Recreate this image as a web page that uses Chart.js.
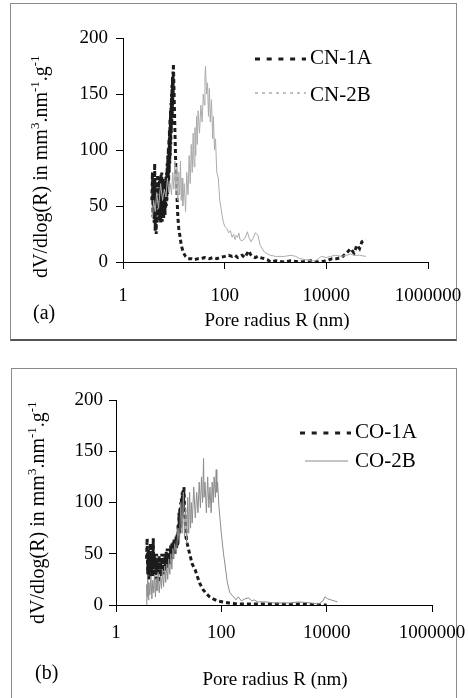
<!DOCTYPE html>
<html>
<head>
<meta charset="utf-8">
<script src="https://cdn.jsdelivr.net/npm/chart.js@4.4.1/dist/chart.umd.min.js"></script>
<style>
  html, body { margin: 0; padding: 0; background: #fff; }
  body { width: 468px; height: 698px; position: relative; overflow: hidden; }
  .box { position: absolute; box-sizing: border-box; }
  canvas { position: absolute; left: 0; }
</style>
</head>
<body>
<div class="box" style="left:10px;top:3px;width:447px;height:338px;border:1px solid #8a8a8a;border-bottom:2px solid #555;"></div>
<div class="box" style="left:11px;top:368px;width:446px;height:340px;border:1px solid #8a8a8a;border-bottom:none;"></div>
<canvas id="c1" width="468" height="340" style="top:0px"></canvas>
<canvas id="c2" width="468" height="358" style="top:340px"></canvas>
<script>
// ---------- tick labels ----------
const xTicks = [1, 100, 10000, 1000000];
const yTicks = [0, 50, 100, 150, 200];

// ---------- panel (a) ----------
const cn1aR = [3.7,3.8,3.9,4.0,
  4.1,4.2,4.3,4.4,4.5,4.6,
  4.7,4.8,4.9,5.0,5.1,5.2,5.3,5.4,5.5,
  5.6,5.7,5.8,5.9,6.0,6.1,6.2,6.3,6.4,6.5,
  6.6,6.7,6.8,6.9,7.0,7.1,7.2,7.3,7.4,7.5,
  7.6,7.7,7.8,7.9,8.0,8.1,8.2,8.3,8.4,8.5,
  8.6,8.7,8.8,8.9,9.0,9.1,9.2,9.3,9.4,9.5,9.6,9.7,9.8,
  10.0,10.3,10.6,11,11.5,12,12.5,13,
  14,15,16,17,18,19,20,
  22,25,30,35,40,
  50,60,70,80,
  100,120,140,160,180,200,220,250,280,300,320,350,
  400,450,500,600,700,800,
  1000,1500,2000,3000,5000,7000,
  10000,13000,16000,20000,25000,30000,35000,40000,45000,50000,60000];
const cn1aV = [55,80,40,72,
  35,88,28,66,25,72,
  34,78,38,70,36,76,40,74,35,
  78,42,80,36,72,40,75,38,70,44,
  68,42,72,48,76,50,80,55,88,60,
  95,66,102,72,110,80,118,88,128,95,
  135,105,142,115,150,122,158,130,165,140,170,150,177,
  160,135,110,80,60,40,30,25,
  15,10,7,5,4,3,3,
  3,2,3,3,4,
  3,4,3,4,
  5,6,5,6,4,5,6,4,8,10,7,5,
  4,5,4,3,2,0,
  1,0,1,0,1,0,
  1,3,3,4,8,12,8,15,12,18,20];

const cn2bR = [3.8,4.0,4.3,4.6,5.0,
  5.5,6.0,6.5,7.0,7.5,8.0,8.5,9.0,9.5,10,
  10.5,11,11.5,12,12.5,13,13.5,14,14.5,15,
  16,17,18,19,20,21,22,23,24,25,26,27,28,29,30,
  32,34,36,38,40,41,42,44,46,48,50,
  52,55,58,60,63,66,70,75,80,85,90,95,100,
  110,120,130,140,150,160,170,180,190,200,
  220,250,280,300,330,370,400,450,500,
  600,700,800,1000,1500,2000,2500,3000,4000,5000,
  6000,7000,8000,10000,12000,15000,20000,25000,30000,35000,45000,60000];
const cn2bV = [40,55,45,62,48,
  70,55,65,58,75,62,70,60,80,65,
  90,60,85,55,80,60,90,55,75,50,
  70,45,80,60,95,70,105,80,115,85,120,95,130,105,135,
  115,140,125,150,140,165,175,150,160,130,155,
  125,145,110,130,100,110,80,75,55,48,40,35,32,
  30,26,28,22,25,20,24,22,26,20,
  19,21,27,22,18,22,26,24,15,
  9,7,6,5,5,6,5,3,2,1,
  1,3,5,4,5,6,5,6,7,6,6,5];

// ---------- panel (b) ----------
const co1aR = [3.8,3.9,4.0,4.1,4.2,4.3,4.4,4.5,4.6,4.7,4.8,4.9,5.0,5.1,5.2,5.3,5.4,5.5,5.6,5.7,5.8,5.9,6.0,
  6.2,6.4,6.6,6.8,7.0,7.2,7.4,7.6,7.8,8.0,8.2,8.4,8.6,8.8,9.0,9.2,9.4,9.6,9.8,10.0,
  10.3,10.6,10.9,11.2,11.5,11.8,12.1,12.4,12.7,13.0,13.3,13.6,13.9,14.2,14.5,14.8,
  15.1,15.4,15.7,16.0,16.3,16.6,16.9,17.2,17.5,17.8,18.1,18.4,18.7,19.0,19.5,20,
  21,22,23,25,28,32,36,39,
  45,52,60,70,85,108,140,170,
  200,300,500,800,1000,2000,3000,5000,8000,10000];
const co1aV = [45,65,30,55,25,50,35,60,28,52,30,48,28,65,35,50,28,48,25,45,30,50,30,
  42,22,48,30,45,28,50,32,46,30,50,33,48,35,52,36,55,38,50,40,
  55,40,58,45,60,45,62,50,65,50,62,55,68,55,70,58,
  78,65,90,70,95,75,100,80,105,85,110,90,112,95,115,95,
  75,62,58,50,40,34,26,21,
  15,11,8,6,4,3,2,1.5,
  1,1,1,1,1,0.5,1,0.5,0,0];

const co2bR = [3.8,3.85,3.9,4.0,4.1,4.2,
  4.4,4.6,4.8,5.0,5.2,5.4,5.6,5.8,6.0,
  6.3,6.6,7.0,7.3,7.6,8.0,8.4,8.8,9.2,9.6,10,
  10.5,11,11.5,12,12.5,13,14,15,
  16,17,18,19,20,21,22,23,24,25,26,27,28,
  30,32,34,36,38,40,42,44,46,47,49,
  52,55,58,61,64,67,70,73,77,80,82,85,90,
  100,110,117,130,145,170,190,210,240,280,
  330,380,420,500,700,1000,2000,3000,5000,7000,
  8500,9300,10500,12000,14000,16000];
const co2bV = [0,20,8,25,5,22,
  10,28,6,24,12,30,8,26,14,
  32,12,28,16,35,18,38,22,40,25,45,
  30,50,35,55,45,60,50,75,
  60,100,70,110,65,95,60,105,70,110,75,100,80,
  115,85,110,90,120,95,125,100,143,105,120,
  90,125,95,115,90,120,100,125,105,132,110,120,96,
  70,50,40,22,12,8,5,8,4,6,
  7,4,5,3,3,2,2,3,2,1,
  4,8,6,5,4,3];

const FONT = '"Liberation Serif", "Times New Roman", serif';

function pts(r, v) { return r.map((x, i) => ({ x: x, y: v[i] })); }

const panelText = {
  id: 'panelText',
  afterDraw(chart, args, o) {
    const ctx = chart.ctx;
    ctx.save();
    ctx.fillStyle = '#000';
    // x-axis title
    ctx.font = '19px ' + FONT;
    ctx.textAlign = 'center';
    ctx.textBaseline = 'alphabetic';
    ctx.fillText(o.xTitle, o.xTitleX, o.xTitleY);
    // panel tag
    ctx.font = '20px ' + FONT;
    ctx.textAlign = 'left';
    ctx.fillText(o.tag, o.tagX, o.tagY);
    // y-axis title with superscripts
    ctx.save();
    ctx.translate(o.yTitleX, o.yTitleY);
    ctx.rotate(-Math.PI / 2);
    let cx = 0;
    for (const [t, sup] of o.yTitle) {
      ctx.font = (sup ? '13px ' : '20px ') + FONT;
      ctx.fillText(t, cx, sup ? -8 : 0);
      cx += ctx.measureText(t).width;
    }
    ctx.restore();
    // legend
    o.legend.forEach((L, i) => {
      const ds = chart.data.datasets[i];
      ctx.save();
      ctx.strokeStyle = ds.borderColor;
      ctx.lineWidth = L.width;
      ctx.setLineDash(L.dash);
      ctx.beginPath();
      ctx.moveTo(L.x1, L.y);
      ctx.lineTo(L.x2, L.y);
      ctx.stroke();
      ctx.restore();
      ctx.font = '21px ' + FONT;
      ctx.fillStyle = '#000';
      ctx.textAlign = 'left';
      ctx.fillText(ds.label, L.tx, L.ty);
    });
    ctx.restore();
  }
};

const yTitleSegs = [['dV/dlog(R) in mm', 0], ['3', 1], ['.nm', 0], ['-1', 1], ['.g', 0], ['-1', 1]];

function buildChart(id, p) {
  const tickFont = { family: FONT, size: 19 };
  return new Chart(document.getElementById(id), {
    type: 'line',
    data: {
      datasets: [
        { label: p.labels[0], data: pts(p.r1, p.v1), borderColor: '#1c1c1c', borderWidth: 3,
          borderDash: [4, 3], order: 2, pointRadius: 0, tension: 0, fill: false },
        { label: p.labels[1], data: pts(p.r2, p.v2), borderColor: p.c2, borderWidth: 1,
          borderDash: [], order: 1, pointRadius: 0, tension: 0, fill: false }
      ]
    },
    options: {
      responsive: false,
      animation: false,
      devicePixelRatio: 1,
      events: [],
      layout: { padding: { top: p.top, right: p.right, left: 0, bottom: 0 } },
      plugins: {
        legend: { display: false },
        tooltip: { enabled: false },
        panelText: p.text
      },
      scales: {
        x: {
          type: 'logarithmic', min: 1, max: 1000000,
          afterBuildTicks: s => { s.ticks = xTicks.map(v => ({ value: v })); },
          afterFit: s => { s.height = p.xh; s.paddingLeft = 0; s.paddingRight = 0; },
          ticks: { callback: v => String(v), font: tickFont, color: '#000', padding: p.xpad,
                   maxRotation: 0, autoSkip: false },
          grid: { drawOnChartArea: false, drawTicks: true, tickLength: 7, color: '#000', lineWidth: 1 },
          border: { display: true, color: '#000', width: 1 }
        },
        y: {
          type: 'linear', min: 0, max: 200,
          afterBuildTicks: s => { s.ticks = yTicks.map(v => ({ value: v })); },
          afterFit: s => { s.width = p.yw; s.paddingTop = 0; s.paddingBottom = 0; },
          ticks: { font: tickFont, color: '#000', padding: p.ypad },
          grid: { drawOnChartArea: false, drawTicks: true, tickLength: 7, color: '#000', lineWidth: 1 },
          border: { display: true, color: '#000', width: 1 }
        }
      }
    },
    plugins: [panelText]
  });
}

buildChart('c1', {
  labels: ['CN-1A', 'CN-2B'], r1: cn1aR, v1: cn1aV, r2: cn2bR, v2: cn2bV, c2: '#ababab',
  top: 38, right: 40, xh: 78, yw: 123, xpad: 16, ypad: 8,
  text: {
    xTitle: 'Pore radius R (nm)', xTitleX: 277, xTitleY: 326,
    tag: '(a)', tagX: 33, tagY: 319,
    yTitle: yTitleSegs, yTitleX: 47, yTitleY: 278,
    legend: [
      { x1: 255, x2: 306, y: 59, width: 3, dash: [5, 6.7], tx: 310, ty: 64 },
      { x1: 255, x2: 306, y: 93, width: 1.5, dash: [3, 4], tx: 310, ty: 101 }
    ]
  }
});

buildChart('c2', {
  labels: ['CO-1A', 'CO-2B'], r1: co1aR, v1: co1aV, r2: co2bR, v2: co2bV, c2: '#8c8c8c',
  top: 60, right: 36, xh: 93, yw: 116, xpad: 10, ypad: 6,
  text: {
    xTitle: 'Pore radius R (nm)', xTitleX: 275, xTitleY: 345,
    tag: '(b)', tagX: 35, tagY: 339,
    yTitle: yTitleSegs, yTitleX: 44, yTitleY: 284,
    legend: [
      { x1: 300, x2: 351, y: 93, width: 3, dash: [5, 6.7], tx: 355, ty: 98 },
      { x1: 305, x2: 348, y: 121, width: 1, dash: [], tx: 355, ty: 127 }
    ]
  }
});
</script>
</body>
</html>
